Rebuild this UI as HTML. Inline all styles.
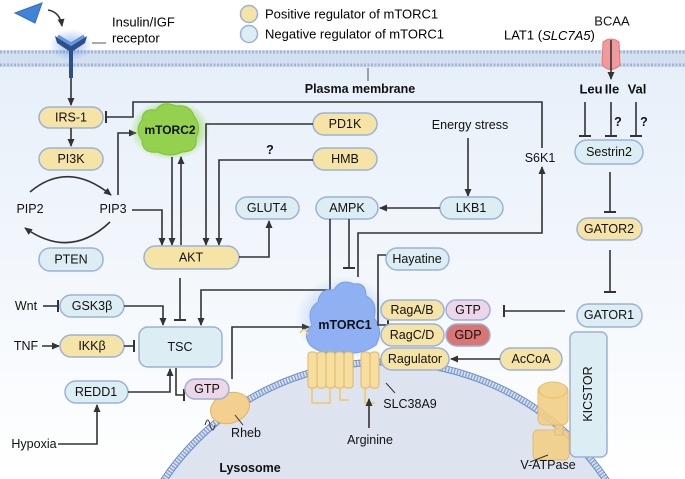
<!DOCTYPE html>
<html><head><meta charset="utf-8"><style>
html,body{margin:0;padding:0;background:#fff;width:685px;height:479px;overflow:hidden;}
svg{display:block;font-family:"Liberation Sans",Arial,sans-serif;overflow:hidden;}
.y{fill:#f6e3a6;stroke:#9cb2d6;stroke-width:1.5}
.b{fill:#dcedf3;stroke:#9cb2d6;stroke-width:1.5}
.t{font-size:12.5px;fill:#111;text-anchor:middle;dominant-baseline:central}
.l{stroke:#333;stroke-width:1.6;fill:none}
.bo{font-weight:bold}
</style></head><body>
<svg width="685" height="479" viewBox="0 0 685 479">
<defs>
<marker id="a" markerWidth="8" markerHeight="8" refX="7" refY="4" orient="auto" markerUnits="userSpaceOnUse"><path d="M0,0.5 L8,4 L0,7.5 z" fill="#333"/></marker>
<marker id="tb" markerWidth="2" markerHeight="12" refX="1" refY="6" orient="auto" markerUnits="userSpaceOnUse"><rect x="0" y="0" width="2" height="12" fill="#333"/></marker>
<linearGradient id="bg" x1="0" y1="0" x2="0" y2="1"><stop offset="0" stop-color="#e6eff9"/><stop offset="1" stop-color="#ffffff"/></linearGradient>
<radialGradient id="gl" cx="0.5" cy="0.5" r="0.5"><stop offset="0" stop-color="#5a8fe0" stop-opacity="0.6"/><stop offset="1" stop-color="#5a8fe0" stop-opacity="0"/></radialGradient>
<radialGradient id="gg" cx="0.5" cy="0.5" r="0.5"><stop offset="0.6" stop-color="#8fd84a" stop-opacity="0.8"/><stop offset="1" stop-color="#8fd84a" stop-opacity="0"/></radialGradient>
<clipPath id="cp"><rect x="0" y="0" width="685" height="479"/></clipPath>
</defs>
<g clip-path="url(#cp)">
<rect x="0" y="60" width="685" height="419" fill="url(#bg)"/>
<rect x="0" y="50" width="685" height="17" fill="#d3e0ef"/>
<line x1="0" y1="52" x2="685" y2="52" stroke="#9fb6d6" stroke-width="3" stroke-dasharray="2 1.5"/>
<line x1="0" y1="65" x2="685" y2="65" stroke="#9fb6d6" stroke-width="3" stroke-dasharray="2 1.5"/>
<circle cx="385" cy="628" r="268" fill="#dde4ef"/>
<circle cx="385" cy="628" r="266" fill="none" stroke="#8aa6d6" stroke-width="6" stroke-dasharray="1.5 1.5"/>
<circle cx="385" cy="628" r="263" fill="none" stroke="#6a8ccc" stroke-width="1"/>
<circle cx="385" cy="628" r="269" fill="none" stroke="#6a8ccc" stroke-width="1"/>
</g>
<text x="250" y="468" class="t bo">Lysosome</text>
<circle cx="249" cy="14" r="8.5" class="y"/><circle cx="249" cy="34" r="8.5" class="b"/>
<text x="265" y="14" style="font-size:13px;dominant-baseline:central">Positive regulator of mTORC1</text>
<text x="265" y="34" style="font-size:13px;dominant-baseline:central">Negative regulator of mTORC1</text>
<polygon points="15,13 42,3 35,23" fill="#3f84d8" stroke="#2f6cc0"/>
<path d="M48,10 Q60,12 62,26" class="l" stroke-width="1" marker-end="url(#a)"/>
<ellipse cx="71" cy="45" rx="22" ry="16" fill="url(#gl)"/>
<path d="M55,36 L71,46 L87,36 L85,43 L73,51 L73,78 L69,78 L69,51 L57,43z" fill="#2f4f8a"/>
<path d="M58,36 L71,44 L84,36" stroke="#5d95e2" stroke-width="3" fill="none"/>
<line x1="92" y1="43" x2="106" y2="43" stroke="#555" stroke-width="1"/>
<text x="112" y="22" style="font-size:13px;dominant-baseline:central">Insulin/IGF</text>
<text x="112" y="38" style="font-size:13px;dominant-baseline:central">receptor</text>
<text x="360" y="89" class="t bo">Plasma membrane</text>
<line x1="368" y1="68" x2="368" y2="81" stroke="#555" stroke-width="1"/>
<text x="504" y="35" style="font-size:13px;dominant-baseline:central">LAT1 (<tspan font-style="italic">SLC7A5</tspan>)</text>
<text x="612" y="21" class="t" style="font-size:13px">BCAA</text>
<path d="M603,42 Q611,36 619,42 L620,65 Q611,74 602,65z" fill="#f19a9c" stroke="#e3787b"/>
<line x1="611" y1="40" x2="611" y2="79" class="l" marker-end="url(#a)"/>
<text x="591" y="89" class="t bo" style="font-size:13px">Leu</text><text x="612" y="89" class="t bo" style="font-size:13px">Ile</text><text x="637" y="89" class="t bo" style="font-size:13px">Val</text>
<line x1="585" y1="102" x2="585" y2="136" class="l" marker-end="url(#tb)"/>
<line x1="611" y1="102" x2="611" y2="136" class="l" marker-end="url(#tb)"/>
<line x1="636" y1="102" x2="636" y2="136" class="l" marker-end="url(#tb)"/>
<text x="618" y="122" class="t bo">?</text><text x="644" y="122" class="t bo">?</text>
<rect x="575" y="140" width="68" height="24" rx="12" class="b" fill="#dcefeb"/><text x="609" y="152" class="t">Sestrin2</text>
<line x1="610" y1="172" x2="610" y2="212" class="l" marker-end="url(#tb)"/>
<rect x="577" y="218" width="65" height="22" rx="11" class="y"/><text x="609" y="229" class="t">GATOR2</text>
<line x1="610" y1="250" x2="610" y2="292" class="l" marker-end="url(#tb)"/>
<rect x="577" y="304" width="65" height="23" rx="11" class="b"/><text x="609" y="315" class="t">GATOR1</text>
<line x1="565" y1="311" x2="504" y2="311" class="l" marker-end="url(#tb)"/>
<rect x="570" y="332" width="37" height="125" rx="6" class="b"/>
<text x="588" y="394" class="t" transform="rotate(-90 588 394)">KICSTOR</text>
<g fill="#f3cf85" stroke="#e6b860" stroke-width="1" opacity="0.9">
<rect x="538" y="385" width="30" height="40" rx="6"/>
<ellipse cx="553" cy="390" rx="14" ry="8"/>
<rect x="533" y="430" width="36" height="30" rx="5"/>
<rect x="555" y="425" width="8" height="10"/>
</g>
<line x1="548" y1="455" x2="530" y2="462" stroke="#333" stroke-width="1"/>
<text x="548" y="465" class="t">V-ATPase</text>
<text x="470" y="125" class="t">Energy stress</text>
<line x1="468" y1="138" x2="468" y2="196" class="l" marker-end="url(#a)"/>
<rect x="440" y="197" width="63" height="22" rx="11" class="b"/><text x="471" y="208" class="t">LKB1</text>
<line x1="440" y1="208" x2="380" y2="208" class="l" marker-end="url(#a)"/>
<rect x="316" y="197" width="62" height="22" rx="11" class="b"/><text x="347" y="208" class="t">AMPK</text>
<text x="540" y="158" class="t">S6K1</text>
<path d="M358,277 L358,233 L542,233 L542,167" class="l" marker-end="url(#a)"/>
<path d="M542,148 L542,102 L133,102 L133,117 L106,117" class="l" marker-end="url(#tb)"/>
<line x1="349" y1="219" x2="349" y2="268" class="l" marker-end="url(#tb)"/>
<path d="M330,219 L330,290 L201,290 L201,325" class="l" marker-end="url(#a)"/>
<line x1="71" y1="78" x2="71" y2="105" class="l" marker-end="url(#a)"/>
<rect x="39" y="107" width="64" height="21" rx="10.5" class="y"/><text x="71" y="117.5" class="t">IRS-1</text>
<line x1="71" y1="128" x2="71" y2="146" class="l" marker-end="url(#a)"/>
<rect x="39" y="148" width="64" height="22" rx="11" class="y"/><text x="71" y="159" class="t">PI3K</text>
<text x="30" y="209" class="t">PIP2</text><text x="113" y="209" class="t">PIP3</text>
<path d="M30,192 Q68,160 111,195" class="l" marker-end="url(#a)"/>
<path d="M110,222 Q70,260 25,228" class="l" marker-end="url(#a)"/>
<rect x="39" y="248" width="64" height="23" rx="11" class="b"/><text x="71" y="259.5" class="t">PTEN</text>
<path d="M118,195 L118,133 L136,133" class="l" marker-end="url(#a)"/>
<path d="M132,210 L162,210 L162,245" class="l" marker-end="url(#a)"/>
<ellipse cx="170" cy="130" rx="40" ry="30" fill="url(#gg)"/>
<path d="M142,120 Q142,108 156,110 Q162,100 176,106 Q190,104 194,116 Q202,126 196,138 Q198,152 182,152 Q170,158 158,152 Q142,154 142,140 Q134,130 142,120z" fill="#93d14f" stroke="#7fc03f"/>
<text x="170" y="130" class="t bo" style="font-size:12px">mTORC2</text>
<line x1="172" y1="157" x2="172" y2="245" class="l" marker-end="url(#a)"/>
<line x1="181" y1="245" x2="181" y2="157" class="l" marker-end="url(#a)"/>
<rect x="313" y="113" width="64" height="22" rx="11" class="y"/><text x="345" y="124" class="t">PD1K</text>
<path d="M313,124 L206,124 L206,245" class="l" marker-end="url(#a)"/>
<rect x="313" y="148" width="64" height="22" rx="11" class="y"/><text x="345" y="159" class="t">HMB</text>
<path d="M313,160 L219,160 L219,245" class="l" marker-end="url(#a)"/>
<text x="270" y="150" class="t bo">?</text>
<rect x="236" y="197" width="63" height="22" rx="11" class="b"/><text x="267" y="208" class="t">GLUT4</text>
<rect x="144" y="246" width="95" height="23" rx="11.5" class="y"/><text x="191" y="257.5" class="t">AKT</text>
<path d="M239,257 L269,257 L269,221" class="l" marker-end="url(#a)"/>
<line x1="180" y1="278" x2="180" y2="320" class="l" marker-end="url(#tb)"/>
<rect x="139" y="327" width="83" height="40" rx="9" class="b"/><text x="180" y="347" class="t">TSC</text>
<text x="26" y="306" class="t">Wnt</text>
<line x1="43" y1="306" x2="58" y2="306" class="l" marker-end="url(#tb)"/>
<rect x="60" y="295" width="64" height="22" rx="11" class="b"/><text x="92" y="306" class="t">GSK3β</text>
<path d="M124,306 L163,306 L163,325" class="l" marker-end="url(#a)"/>
<text x="26" y="346" class="t">TNF</text>
<line x1="42" y1="346" x2="59" y2="346" class="l" marker-end="url(#a)"/>
<rect x="60" y="335" width="64" height="22" rx="11" class="y"/><text x="92" y="346" class="t">IKKβ</text>
<line x1="124" y1="346" x2="134" y2="346" class="l" marker-end="url(#tb)"/>
<rect x="65" y="381" width="63" height="22" rx="11" class="b"/><text x="96" y="392" class="t">REDD1</text>
<path d="M128,392 L170,392 L170,369" class="l" marker-end="url(#a)"/>
<text x="34" y="444" class="t">Hypoxia</text>
<path d="M58,444 L97,444 L97,405" class="l" marker-end="url(#a)"/>
<path d="M176,368 L176,395 L184,395" class="l" marker-end="url(#tb)"/>
<ellipse cx="230" cy="408" rx="20" ry="15" fill="#f3d08f" stroke="#e3b35a" transform="rotate(-20 230 408)"/>
<path d="M205,425 q3,-10 5,0 q3,10 5,0" stroke="#333" fill="none" stroke-width="1"/>
<rect x="185" y="379" width="44" height="20" rx="10" fill="#ecd6e8" stroke="#9cb2d6" stroke-width="1.5"/><text x="207" y="389" class="t">GTP</text>
<line x1="235" y1="415" x2="243" y2="425" stroke="#333" stroke-width="1"/>
<text x="246" y="433" class="t">Rheb</text>
<path d="M232,379 L232,327 L309,327" class="l" marker-end="url(#a)"/>
<ellipse cx="343" cy="318" rx="48" ry="42" fill="url(#gl)"/>
<path d="M312,325 Q306,310 318,302 Q320,288 334,290 Q340,278 354,284 Q366,282 366,296 Q378,302 374,318 Q384,330 376,345 Q360,356 343,352 Q322,356 310,345 Q302,334 312,325z" fill="#8fb0f2" stroke="#7a9ee8"/>
<text x="345" y="325" class="t bo">mTORC1</text>
<g fill="#f5dea0" stroke="#e3b560" stroke-width="1">
<rect x="308" y="352" width="9" height="36" rx="3"/><rect x="317" y="352" width="9" height="36" rx="3"/><rect x="326" y="352" width="9" height="36" rx="3"/><rect x="335" y="352" width="9" height="36" rx="3"/><rect x="344" y="352" width="9" height="36" rx="3"/>
<rect x="361" y="352" width="9" height="36" rx="3"/><rect x="370" y="352" width="9" height="36" rx="3"/>
</g>
<path d="M312,388 L312,403 L330,403 L330,388 M340,388 L340,400 L349,400 M300,333 q5,-8 8,2 M365,388 L365,403 L375,403" stroke="#f0c860" stroke-width="1.5" fill="none"/>
<line x1="386" y1="383" x2="395" y2="393" stroke="#333" stroke-width="1"/>
<text x="410" y="404" class="t">SLC38A9</text>
<text x="370" y="440" class="t">Arginine</text>
<line x1="369" y1="428" x2="369" y2="399" class="l" marker-end="url(#a)"/>
<rect x="386" y="248" width="63" height="22" rx="11" class="b"/><text x="417" y="259" class="t">Hayatine</text>
<path d="M386,255 L378,255 L378,325 L388,325" class="l" marker-end="url(#tb)"/>
<rect x="381" y="300" width="63" height="20" rx="10" class="y"/><text x="412" y="310" class="t">RagA/B</text>
<rect x="446" y="300" width="44" height="20" rx="10" fill="#ecd6e8" stroke="#9cb2d6" stroke-width="1.5"/><text x="468" y="310" class="t">GTP</text>
<rect x="381" y="324" width="63" height="22" rx="11" class="y"/><text x="412" y="335" class="t">RagC/D</text>
<rect x="446" y="324" width="44" height="22" rx="11" fill="#d97572" stroke="#9cb2d6" stroke-width="1.5"/><text x="468" y="335" class="t">GDP</text>
<rect x="381" y="348" width="68" height="22" rx="11" class="y"/><text x="415" y="359" class="t">Ragulator</text>
<rect x="500" y="348" width="62" height="22" rx="11" class="y"/><text x="531" y="359" class="t">AcCoA</text>
<line x1="500" y1="359" x2="451" y2="359" class="l" marker-end="url(#a)"/>
</svg>
</body></html>
